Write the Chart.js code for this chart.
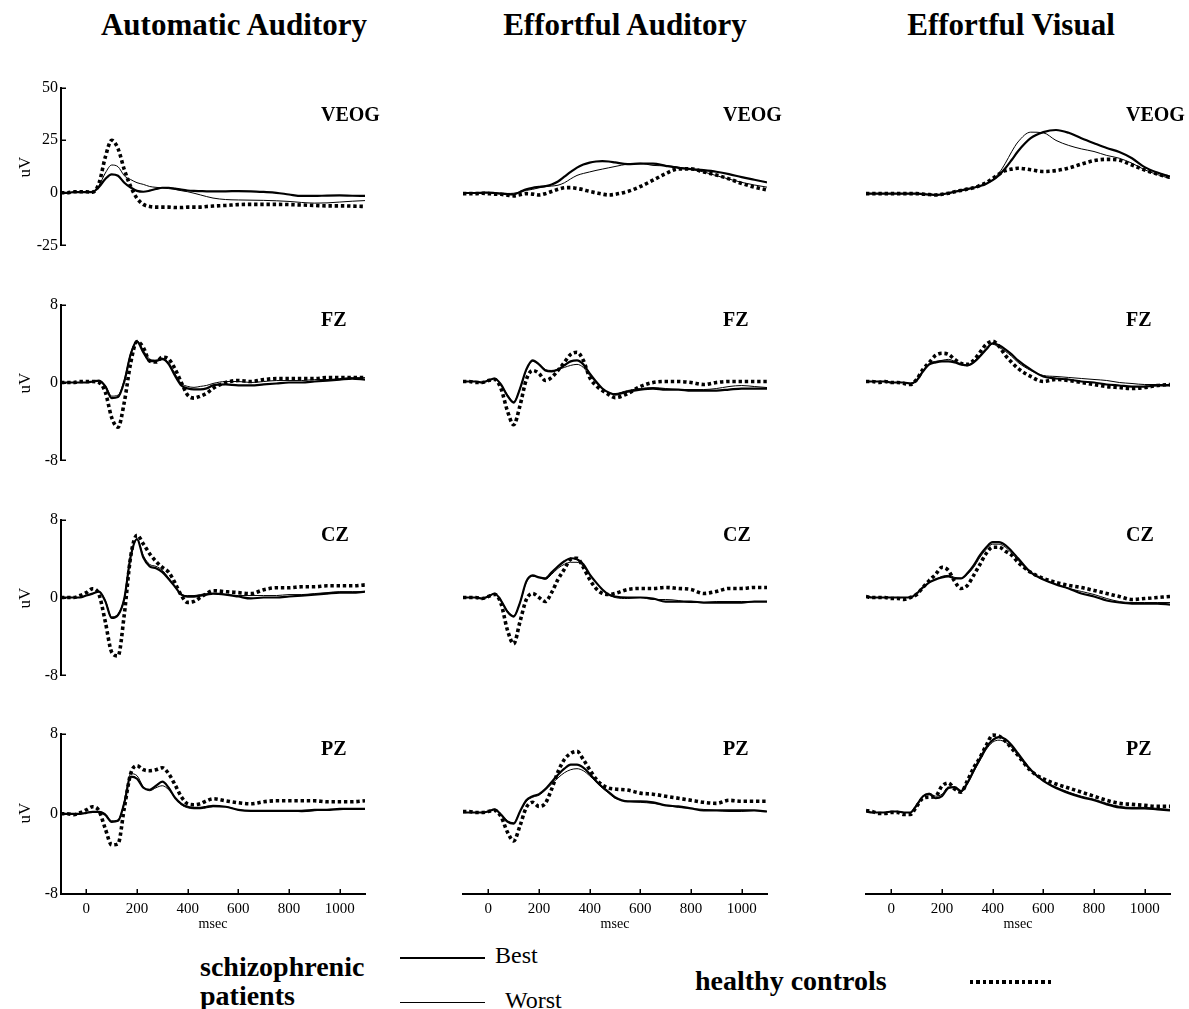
<!DOCTYPE html>
<html><head><meta charset="utf-8">
<script src="https://cdn.jsdelivr.net/npm/chart.js@4.4.1/dist/chart.umd.min.js"></script>
<style>
html,body{margin:0;padding:0;background:#fff;}
body{width:1189px;height:1009px;overflow:hidden;position:relative;font-family:"Liberation Serif","Times New Roman",serif;color:#000;}
.t{position:absolute;white-space:nowrap;line-height:1;}
.title{font-size:31px;font-weight:bold;transform:translateX(-50%);}
.plab{font-size:20px;font-weight:bold;}
.msec{font-size:14px;transform:translateX(-50%);}
.uv{font-size:17px;transform:translate(-50%,-50%) rotate(-90deg);}
.leg{font-size:28px;font-weight:bold;}
.legn{font-size:24px;}
canvas{position:absolute;}
</style></head><body>
<script>
// ---------------- data ----------------
const times = [-100,-75,-50,-25,0,25,50,75,100,125,150,175,200,225,250,275,300,325,350,375,400,425,450,475,500,550,600,650,700,750,800,850,900,950,1000,1050,1100];
const columnTitles = ["Automatic Auditory","Effortful Auditory","Effortful Visual"];
const rowLabels = ["VEOG","FZ","CZ","PZ"];
const xTickValues = [0,200,400,600,800,1000];
const veogTickValues = [50,25,0,-25];
const eegTickValues = [8,0,-8];
const veogRange = [-25,50];
const eegRange = [-8,8];
const legendGroup = ["schizophrenic","patients"];
const legendBest = "Best", legendWorst = "Worst", legendControls = "healthy controls";

// Automatic Auditory
const autoVEOG_best  = [0,0,0.3,0.3,0.3,0.4,2.8,6.6,8.8,8.1,4.8,2.5,0.9,0.5,1,1.8,2.4,2.4,2,1.5,1.1,0.9,0.8,0.7,0.7, 0.7,0.8,0.7,0.4,0,-0.8,-1.5,-1.5,-1.3,-1.2,-1.4,-1.5];
const autoVEOG_worst = [0,0,0.3,0.3,0.3,0.4,3.5,9.4,13.2,12.4,8.1,6.3,4.8,4,3,2.6,2.3,2,1.6,1,0.5,-0.2,-1,-1.8,-2.5, -3.2,-3.4,-3.5,-3.6,-3.8,-4.1,-4.6,-4.9,-4.8,-4.4,-4,-3.7];
const autoVEOG_ctrl  = [0,0,0.5,0.5,0.5,0.3,4.5,17,25,21,11,3,-2.6,-5.5,-6.5,-6.8,-6.8,-6.8,-7,-7,-6.8,-6.8,-6.8,-6.5,-6.3, -6,-5.6,-5.5,-5.5,-5.5,-5.6,-5.8,-6,-6.2,-6.2,-6.3,-6.5];
const autoFZ_best  = [0,0,0,0,0,0.1,0.2,-0.4,-1.6,-1.5,0.1,2.9,4.2,3.1,2.2,2.2,2.4,1.9,0.7,-0.3,-0.6,-0.7,-0.7,-0.6,-0.3, -0.2,-0.3,-0.3,-0.2,-0.1,0,0,0.1,0.2,0.3,0.4,0.3];
const autoFZ_worst = [0,0,0,0,0,0.1,0.2,-0.3,-1.4,-1.3,0.3,3,4.3,3.3,2.4,2.3,2.5,2,0.9,-0.1,-0.4,-0.5,-0.4,-0.3,-0.1, 0.1,0.1,0,0.1,0.2,0.2,0.2,0.3,0.3,0.4,0.5,0.5];
const autoFZ_ctrl  = [0,0,0,0.1,0.1,0.1,0,-1,-3.6,-4.6,-2,2,4.2,3.6,2.2,2.1,2.6,2.4,1.4,0,-1.3,-1.6,-1.4,-1.1,-0.6, 0,0.2,0.1,0.3,0.4,0.4,0.4,0.4,0.5,0.5,0.5,0.5];
const autoCZ_best  = [0,0,0,0,0.2,0.4,0.6,-0.4,-2.1,-1.8,-0.1,4.2,6,4.1,3.2,3,2.6,1.9,1.1,0.3,0.1,0.1,0.2,0.3,0.4, 0.3,0.1,-0.1,0,0,0.1,0.2,0.3,0.4,0.5,0.5,0.6];
const autoCZ_worst = [0,0,0,0,0.2,0.4,0.6,-0.3,-2,-1.7,0,4.3,6,4.3,3.4,3.2,2.8,2,1.1,0.3,0.2,0.2,0.3,0.4,0.4, 0.3,0.2,0.2,0.2,0.2,0.3,0.3,0.4,0.5,0.6,0.6,0.6];
const autoCZ_ctrl  = [0,0,0,0.2,0.5,0.9,0.3,-2.5,-5.6,-6,-1.7,4.2,6.4,5.5,4.5,3.7,3.1,2.6,1.5,0.2,-0.5,-0.4,0,0.4,0.7, 0.6,0.5,0.4,0.8,1,1,1.1,1.1,1.2,1.2,1.2,1.3];
const autoPZ_best  = [0,0,0,0,0.1,0.2,0.2,-0.1,-0.8,-0.7,1.1,3.7,3.5,2.6,2.4,2.8,3.2,2.6,1.6,1,0.7,0.6,0.6,0.7,0.8, 0.7,0.4,0.3,0.3,0.3,0.3,0.3,0.4,0.4,0.5,0.5,0.5];
const autoPZ_worst = [0,0,0,0,0.1,0.2,0.2,0,-0.7,-0.6,1.2,4,3.8,2.7,2.3,2.6,2.8,2.4,1.6,0.9,0.6,0.5,0.5,0.6,0.7, 0.7,0.4,0.3,0.3,0.3,0.3,0.2,0.3,0.4,0.4,0.5,0.5];
const autoPZ_ctrl  = [0,0,-0.1,0.1,0.4,0.7,0.3,-1.5,-3.1,-3,0.6,4,4.8,4.4,4.3,4.4,4.6,4,2.9,1.7,1,0.9,1,1.3,1.5, 1.3,1.1,1,1.2,1.3,1.3,1.3,1.3,1.2,1.2,1.2,1.3];

// Effortful Auditory
const effAudVEOG_best  = [0.3,0.3,0.3,0.4,0.5,0.3,0,-0.2,-0.3,0.8,2,2.7,3.1,3.5,4.2,5.6,7.8,10,12,13.4,14.3,14.8,15,14.8,14.4, 13.6,13.8,13.8,12.8,11.9,11.3,10.8,10.1,9,7.6,6.4,5.2];
const effAudVEOG_worst = [0.5,0.5,0.5,0.5,0.4,0.3,0.2,0.1,0.2,0.8,1.5,2,2.7,3.2,3.5,3.9,5,6.8,8.4,9.3,10,10.7,11.3,11.9,12.5, 13.6,14,13,12.8,12.2,11.2,10,8.3,6.7,5.2,4,3];
const effAudVEOG_ctrl  = [0,0,0,0.2,0,-0.2,-0.3,-0.7,-1,-0.5,0,-0.2,-0.6,0,1,2,2.7,2.8,2.4,1.8,1,0.4,-0.2,-0.6,-0.3, 1,3.3,6.2,9.2,11.4,11.4,10,8.6,6.8,4.7,3,1.7];
const effAudFZ_best  = [0.1,0.1,0.1,0,0.2,0.4,-0.2,-1.3,-2,-0.6,1.3,2.2,1.8,1.2,1.1,1.3,1.7,2.1,2.2,1.8,0.9,0.1,-0.6,-1,-1.2, -0.9,-0.7,-0.6,-0.7,-0.7,-0.8,-0.8,-0.8,-0.7,-0.6,-0.6,-0.6];
const effAudFZ_worst = [0.1,0.1,0.1,0,0.2,0.4,-0.2,-1.2,-1.9,-0.6,1.2,2.1,1.8,1.3,1.2,1.3,1.5,1.7,1.8,1.5,0.7,0,-0.6,-1,-1.1, -0.8,-0.6,-0.5,-0.6,-0.7,-0.7,-0.7,-0.6,-0.4,-0.3,-0.4,-0.5];
const effAudFZ_ctrl  = [0.1,0.1,0,0,0.2,0.3,-0.6,-2.8,-4.2,-2.3,0.3,1.2,0.9,0.2,0.5,1.2,2,2.8,3,2.2,0.5,-0.3,-0.8,-1.2,-1.5, -1.1,-0.4,0,0.1,0.1,0,-0.2,0,0.1,0.1,0.1,0.1];
const effAudCZ_best  = [0,0,0,-0.1,0.1,0.4,-0.3,-1.4,-1.9,-0.5,1.6,2.2,2,1.9,2.5,3.1,3.6,3.9,3.8,3.3,2.3,1.5,0.8,0.3,0.1, 0,0,-0.1,-0.4,-0.4,-0.4,-0.5,-0.5,-0.5,-0.5,-0.4,-0.4];
const effAudCZ_worst = [0,0,0,-0.1,0.1,0.4,-0.3,-1.3,-1.8,-0.5,1.5,2.1,2,1.8,2.3,2.9,3.3,3.5,3.5,3.1,2.3,1.5,0.8,0.3,0, -0.1,0,-0.2,-0.2,-0.3,-0.5,-0.5,-0.4,-0.4,-0.4,-0.4,-0.4];
const effAudCZ_ctrl  = [0,0,0,-0.1,0.1,0.3,-0.6,-3.2,-4.6,-2.4,-0.2,0.4,0,-0.4,0.5,1.8,2.8,3.8,3.9,3,1.8,0.9,0.4,0.3,0.4, 0.8,0.9,0.9,1,0.9,0.8,0.4,0.6,0.9,0.9,1,1];
const effAudPZ_best  = [0,0,0,0,0.1,0.3,-0.2,-0.9,-1.1,0.1,1.2,1.6,1.8,2.3,3,3.7,4.3,4.7,4.7,4.4,3.8,3.1,2.5,2,1.5, 1.1,1.1,1,0.7,0.6,0.4,0.2,0.2,0.2,0.2,0.2,0.1];
const effAudPZ_worst = [0,0,0,0,0.1,0.3,-0.2,-0.8,-1,0.1,1.1,1.5,1.7,2.2,2.8,3.4,3.9,4.2,4.3,4.1,3.6,3,2.4,1.9,1.4, 1.1,1,0.9,0.7,0.5,0.4,0.3,0.2,0.1,0.1,0.2,0.1];
const effAudPZ_ctrl  = [0.1,0.1,0,0,0.1,0.2,-0.4,-1.9,-2.8,-1.3,0.5,1,0.6,0.9,2.3,4,5.2,5.8,6,5.2,4.2,3.3,2.7,2.4,2.3, 2.2,1.9,1.8,1.6,1.4,1.2,1,0.9,1.2,1.1,1.1,1.1];

// Effortful Visual
const effVisVEOG_best  = [0,0,0,0,0,0,0,0,0,-0.2,-0.4,-0.6,-0.3,0.2,0.9,1.5,2.1,2.7,3.5,4.6,6.2,8.5,11.7,15.5,19.5, 25.5,28.3,29.3,28,25.5,23.2,21,19.2,16.3,12.2,9.7,7.8];
const effVisVEOG_worst = [0,0,0,0,0,0,0,0,0,-0.2,-0.4,-0.6,-0.3,0.2,0.9,1.5,2.1,2.7,3.5,4.6,6.5,9.5,14,19.3,23.8, 28.3,28,24.5,22.2,20.6,19.4,17.6,16.3,14,11,8.8,7];
const effVisVEOG_ctrl  = [0,0,0,0,0,0,0,0,0,-0.2,-0.4,-0.6,-0.3,0.2,0.9,1.5,2.1,2.7,3.8,5,7,9,10.6,11.3,11.7, 11,10.2,10.6,11.8,13.6,15.2,15.8,15.4,13.2,10.9,9,7.5];
const effVisFZ_best  = [0.1,0.1,0.1,0.1,0,0,0,-0.1,0.2,1.1,1.8,2,2.1,2.1,2,1.8,1.7,2,2.6,3.3,3.9,3.7,3.3,2.8,2.2, 1.3,0.6,0.4,0.3,0.1,0,-0.2,-0.3,-0.4,-0.4,-0.3,-0.3];
const effVisFZ_worst = [0.1,0.1,0.1,0.1,0,0,0,-0.1,0.3,1.2,1.9,2.1,2.2,2.3,2.1,1.8,1.7,2.1,2.7,3.4,3.8,3.5,3.1,2.6,2, 1.2,0.7,0.6,0.5,0.4,0.3,0.2,0,-0.1,-0.2,-0.2,-0.2];
const effVisFZ_ctrl  = [0.1,0.1,0,0.1,0,0,-0.1,-0.2,0.3,1.3,2,2.7,2.9,2.8,2.3,1.9,1.8,2.2,3,3.8,4.1,3.6,2.7,2,1.4, 0.6,0.1,0.3,0.2,0,-0.2,-0.4,-0.5,-0.6,-0.5,-0.3,-0.2];
const effVisCZ_best  = [0.1,0,0,0,0,0,0,0,0.4,1,1.5,1.8,2,2.1,1.9,1.9,2.4,3.2,4.2,5,5.5,5.5,5.2,4.6,3.9, 2.5,1.8,1.3,0.9,0.4,0.1,-0.3,-0.5,-0.6,-0.6,-0.6,-0.7];
const effVisCZ_worst = [0.1,0,0,0,0,0,0,0,0.4,1,1.5,1.8,2.1,2.2,2,1.9,2.3,3,4,4.8,5.3,5.3,5,4.4,3.7, 2.5,1.8,1.3,0.9,0.6,0.3,-0.1,-0.4,-0.5,-0.5,-0.5,-0.5];
const effVisCZ_ctrl  = [0.1,0,0,0,-0.1,-0.1,-0.2,0,0.3,1,1.7,2.3,3,2.7,1.6,0.9,1.2,2.2,3.3,4.4,5,5,4.6,4.2,3.5, 2.5,1.9,1.5,1.2,1,0.7,0.4,0.1,-0.2,-0.1,0,0.1];
const effVisPZ_best  = [0.1,0,0,0,0.1,0.1,0,0,0.7,1.6,1.8,1.4,1.6,2.4,2.5,2.1,2.9,4.1,5.3,6.4,7.1,7.4,7.2,6.6,5.8, 4.2,3.1,2.4,1.9,1.5,1.2,0.8,0.5,0.4,0.4,0.3,0.2];
const effVisPZ_worst = [0.1,0,0,0,0.1,0.1,0,0,0.8,1.6,1.9,1.6,1.8,2.5,2.4,2,2.8,4,5.1,6.2,6.9,7.1,6.9,6.4,5.6, 4.1,3.1,2.5,2,1.6,1.3,0.9,0.6,0.5,0.5,0.4,0.3];
const effVisPZ_ctrl  = [0.2,0.1,-0.1,-0.1,0,0,-0.2,-0.2,0.6,1.4,1.5,1.6,2.6,2.9,2.3,2,3.1,4.4,5.4,6.6,7.6,7.5,7,6.3,5.6, 4.1,3.3,2.8,2.4,2,1.6,1.2,0.9,0.8,0.7,0.6,0.6];

// ---------------- layout ----------------
const COL_LEFT = [61, 463, 866];
const ROW_TOP = [85, 302, 517, 731];
const ROW_BOTTOM = [248, 463, 678, 894];
const PLOT_W = 304;
const FONT = '"Liberation Serif","Times New Roman",serif';

const panelData = [
  [[autoVEOG_best,autoVEOG_worst,autoVEOG_ctrl],[effAudVEOG_best,effAudVEOG_worst,effAudVEOG_ctrl],[effVisVEOG_best,effVisVEOG_worst,effVisVEOG_ctrl]],
  [[autoFZ_best,autoFZ_worst,autoFZ_ctrl],[effAudFZ_best,effAudFZ_worst,effAudFZ_ctrl],[effVisFZ_best,effVisFZ_worst,effVisFZ_ctrl]],
  [[autoCZ_best,autoCZ_worst,autoCZ_ctrl],[effAudCZ_best,effAudCZ_worst,effAudCZ_ctrl],[effVisCZ_best,effVisCZ_worst,effVisCZ_ctrl]],
  [[autoPZ_best,autoPZ_worst,autoPZ_ctrl],[effAudPZ_best,effAudPZ_worst,effAudPZ_ctrl],[effVisPZ_best,effVisPZ_worst,effVisPZ_ctrl]]
];

function addText(cls, txt, left, top){
  const d = document.createElement('div');
  d.className = 't ' + cls; d.textContent = txt;
  d.style.left = left + 'px'; d.style.top = top + 'px';
  document.body.appendChild(d); return d;
}

const inwardTicks = {
  id: 'inwardTicks',
  afterDraw(chart){
    const ctx = chart.ctx, a = chart.chartArea;
    const xs = chart.scales.x, ys = chart.scales.y;
    ctx.save(); ctx.strokeStyle = '#000'; ctx.lineWidth = 1.5;
    if (ys.options.display) ys.ticks.forEach(t => {
      const p = Math.round(ys.getPixelForValue(t.value)) + 0.25;
      ctx.beginPath(); ctx.moveTo(a.left, p); ctx.lineTo(a.left + 5, p); ctx.stroke();
    });
    if (xs.options.display) xs.ticks.forEach(t => {
      const p = Math.round(xs.getPixelForValue(t.value)) + 0.25;
      ctx.beginPath(); ctx.moveTo(p, a.bottom); ctx.lineTo(p, a.bottom - 5); ctx.stroke();
    });
    ctx.restore();
  }
};

function makePanel(r, c){
  const [best, worst, ctrl] = panelData[r][c];
  const showY = c === 0, showX = r === 3, isVeog = r === 0;
  const h = ROW_BOTTOM[r] - ROW_TOP[r];
  const W = 50 + PLOT_W + 10, H = 10 + h + (showX ? 45 : 10);
  const cv = document.createElement('canvas');
  cv.width = W; cv.height = H;
  cv.style.left = (COL_LEFT[c] - 50) + 'px'; cv.style.top = (ROW_TOP[r] - 10) + 'px';
  cv.style.width = W + 'px'; cv.style.height = H + 'px';
  document.body.appendChild(cv);
  const pts = arr => times.map((t, i) => ({x: t, y: arr[i]}));
  const yTicks = isVeog ? veogTickValues : eegTickValues;
  const yRange = isVeog ? veogRange : eegRange;
  new Chart(cv, {
    type: 'line',
    data: { datasets: [
      { label: legendBest, data: pts(best), borderColor: '#000', borderWidth: 2.2, cubicInterpolationMode: 'monotone', pointRadius: 0, fill: false },
      { label: legendWorst, data: pts(worst), borderColor: '#000', borderWidth: 1, cubicInterpolationMode: 'monotone', pointRadius: 0, fill: false },
      { label: legendControls, data: pts(ctrl), borderColor: '#000', borderWidth: 3.6, borderDash: [3.4, 2.8], borderCapStyle: 'butt', cubicInterpolationMode: 'monotone', pointRadius: 0, fill: false }
    ]},
    options: {
      responsive: false, animation: false, devicePixelRatio: 1,
      layout: { padding: { left: showY ? 5 : 50, right: 10, top: 10, bottom: showX ? 20 : 10 } },
      plugins: { legend: { display: false }, tooltip: { enabled: false } },
      elements: { point: { radius: 0 } },
      scales: {
        x: {
          type: 'linear', min: -100, max: 1100, display: showX,
          afterBuildTicks: s => { s.ticks = xTickValues.map(v => ({ value: v })); },
          afterFit: s => { if (showX) s.height = 25; },
          grid: { display: false, drawTicks: false },
          border: { display: true, color: '#000', width: 2 },
          ticks: { color: '#000', font: { family: FONT, size: 15 }, padding: 6, maxRotation: 0, autoSkip: false, callback: v => String(v) }
        },
        y: {
          type: 'linear', min: yRange[0], max: yRange[1], display: showY,
          afterBuildTicks: s => { s.ticks = yTicks.map(v => ({ value: v })); },
          afterFit: s => { if (showY) s.width = 45; },
          grid: { display: false, drawTicks: false },
          border: { display: true, color: '#000', width: 2 },
          ticks: { color: '#000', font: { family: FONT, size: 16 }, padding: 3, autoSkip: false, callback: v => String(v) }
        }
      }
    },
    plugins: [inwardTicks]
  });
}

for (let r = 0; r < 4; r++) for (let c = 0; c < 3; c++) makePanel(r, c);

// titles
const titleCenters = [234, 625, 1011];
columnTitles.forEach((t, i) => addText('title', t, titleCenters[i], 9));
// panel labels
for (let r = 0; r < 4; r++) for (let c = 0; c < 3; c++) {
  addText('plab', rowLabels[r], COL_LEFT[c] + 260, ROW_TOP[r] + (r === 0 ? 19 : 7));
}
// uV labels
for (let r = 0; r < 4; r++) addText('uv', 'uV', 24, (ROW_TOP[r] + ROW_BOTTOM[r]) / 2);
// msec labels
for (let c = 0; c < 3; c++) addText('msec', 'msec', COL_LEFT[c] + PLOT_W / 2, 917);

// legend
addText('leg', legendGroup[0], 200, 953);
addText('leg', legendGroup[1], 200, 982);
addText('leg', legendControls, 695, 967);
addText('legn', legendBest, 495, 943);
addText('legn', legendWorst, 505, 988);
function lineSample(left, top, w, h, bg){
  const d = document.createElement('div');
  d.style.cssText = `position:absolute;left:${left}px;top:${top}px;width:${w}px;height:${h}px;background:${bg}`;
  document.body.appendChild(d);
}
lineSample(400, 957, 85, 2, '#000');
lineSample(400, 1002, 85, 1, '#000');
lineSample(970, 980, 84, 4, 'repeating-linear-gradient(90deg,#000 0 3.5px,transparent 3.5px 6.5px)');
</script>
</body></html>
